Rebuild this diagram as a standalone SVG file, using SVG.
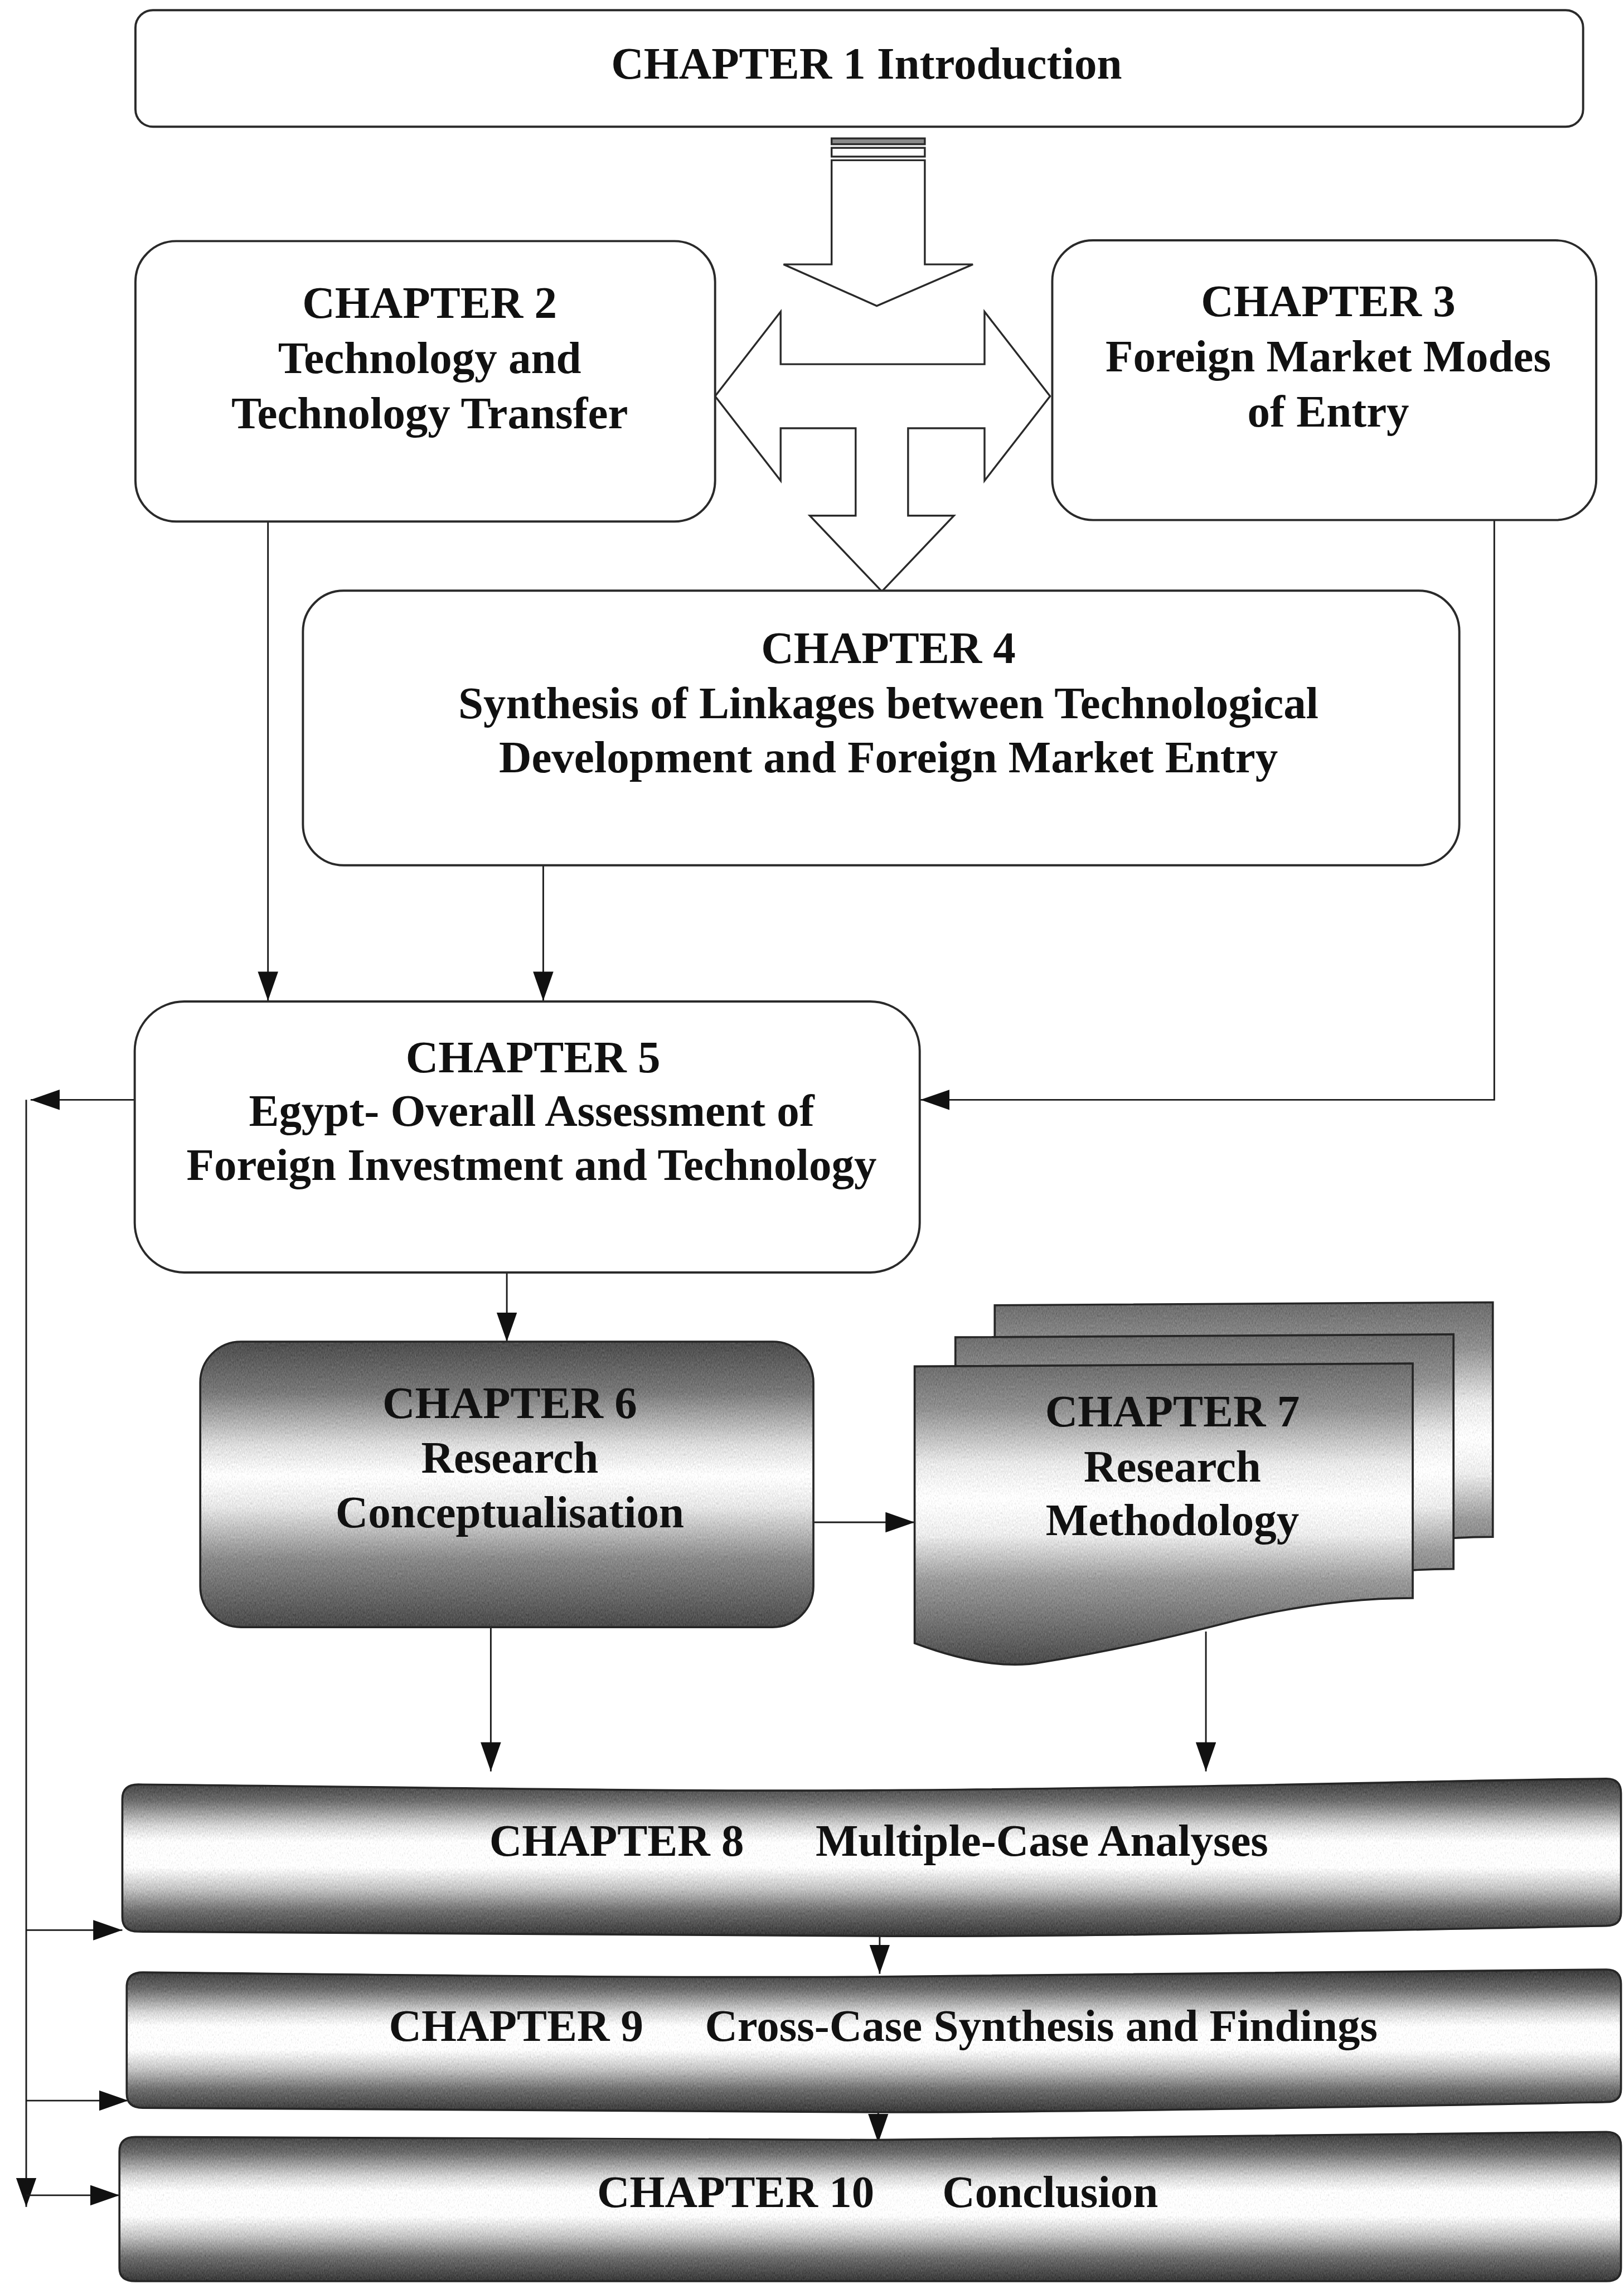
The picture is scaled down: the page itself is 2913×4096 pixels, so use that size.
<svg xmlns="http://www.w3.org/2000/svg" width="2913" height="4096" viewBox="0 0 2913 4096">
  <defs>
    <style>
      .box { fill: #ffffff; stroke: #2a2a2a; stroke-width: 1.5; }
      .shape { fill: #ffffff; stroke: #2a2a2a; stroke-width: 1.3; stroke-linejoin: miter; }
      .shade { stroke: #262626; stroke-width: 1.4; }
      .lbl { font-family: "Liberation Serif", "Times New Roman", serif; font-weight: bold; font-size: 31px; fill: #111111; text-anchor: middle; }
      .lbl-l { font-family: "Liberation Serif", "Times New Roman", serif; font-weight: bold; font-size: 31px; fill: #111111; text-anchor: start; }
      .wire { fill: none; stroke: #1a1a1a; stroke-width: 1.1; }
    </style>
    <marker id="ah" markerUnits="userSpaceOnUse" viewBox="0 0 20 14" markerWidth="20" markerHeight="14" refX="20" refY="7" orient="auto">
      <path d="M0,0 L20,7 L0,14 Z" fill="#111111"/>
    </marker>
    <!-- vertical shading for the rounded "Research Conceptualisation" block -->
    <linearGradient id="gBlock" x1="0" y1="0" x2="0" y2="1">
      <stop offset="0" stop-color="#4d4d4d"/>
      <stop offset="0.18" stop-color="#7a7a7a"/>
      <stop offset="0.36" stop-color="#dcdcdc"/>
      <stop offset="0.47" stop-color="#ffffff"/>
      <stop offset="0.58" stop-color="#e6e6e6"/>
      <stop offset="0.76" stop-color="#8a8a8a"/>
      <stop offset="1" stop-color="#4a4a4a"/>
    </linearGradient>
    <!-- shading for the stacked document pages -->
    <linearGradient id="gPage" x1="0" y1="0" x2="0" y2="1">
      <stop offset="0" stop-color="#6c6c6c"/>
      <stop offset="0.15" stop-color="#909090"/>
      <stop offset="0.33" stop-color="#e8e8e8"/>
      <stop offset="0.45" stop-color="#ffffff"/>
      <stop offset="0.57" stop-color="#ececec"/>
      <stop offset="0.72" stop-color="#9a9a9a"/>
      <stop offset="1" stop-color="#4a4a4a"/>
    </linearGradient>
    <!-- shading for the horizontal cylinder bars -->
    <linearGradient id="gBar" x1="0" y1="0" x2="0" y2="1">
      <stop offset="0" stop-color="#3a3a3a"/>
      <stop offset="0.14" stop-color="#6c6c6c"/>
      <stop offset="0.3" stop-color="#d6d6d6"/>
      <stop offset="0.4" stop-color="#ffffff"/>
      <stop offset="0.56" stop-color="#ffffff"/>
      <stop offset="0.7" stop-color="#c4c4c4"/>
      <stop offset="0.84" stop-color="#6e6e6e"/>
      <stop offset="1" stop-color="#383838"/>
    </linearGradient>
    <!-- fine grain laid over the shaded fills -->
    <filter id="grain" x="0" y="0" width="100%" height="100%" color-interpolation-filters="sRGB">
      <feTurbulence type="fractalNoise" baseFrequency="1.6 0.6" numOctaves="2" seed="7" result="t"/>
      <feColorMatrix in="t" type="matrix" values="0.33 0.33 0.33 0 0  0.33 0.33 0.33 0 0  0.33 0.33 0.33 0 0  0 0 0 0 1" result="g"/>
      <feComposite in="SourceGraphic" in2="g" operator="arithmetic" k1="0" k2="1" k3="0.4" k4="-0.2" result="c"/>
      <feComposite in="c" in2="SourceAlpha" operator="in"/>
    </filter>
  </defs>

  <rect x="0" y="0" width="2913" height="4096" fill="#ffffff"/>

  <g transform="scale(2.6124)">
    <!-- connectors -->
    <g id="connectors">
      <path class="wire" d="M184 358 V687" marker-end="url(#ah)"/>
      <path class="wire" d="M373 594 V687" marker-end="url(#ah)"/>
      <path class="wire" d="M1026 357 V755 H632" marker-end="url(#ah)"/>
      <path class="wire" d="M348 874 V921" marker-end="url(#ah)"/>
      <path class="wire" d="M559 1045 H628" marker-end="url(#ah)"/>
      <path class="wire" d="M337 1117 V1216" marker-end="url(#ah)"/>
      <path class="wire" d="M828 1120 V1216" marker-end="url(#ah)"/>
      <path class="wire" d="M604 1327 V1355" marker-end="url(#ah)"/>
      <path class="wire" d="M603 1449 V1471" marker-end="url(#ah)"/>
      <path class="wire" d="M92 755 H21" marker-end="url(#ah)"/>
      <path class="wire" d="M18 755 V1515" marker-end="url(#ah)"/>
      <path class="wire" d="M18 1325 H84" marker-end="url(#ah)"/>
      <path class="wire" d="M18 1442 H88" marker-end="url(#ah)"/>
      <path class="wire" d="M18 1507 H82" marker-end="url(#ah)"/>
    </g>

    <!-- block arrows between chapters 1-4 -->
    <g id="flow-arrows">
      <rect class="shape" x="571" y="95" width="64" height="4" style="fill:#8a8a8a"/>
      <rect class="shape" x="571" y="101.5" width="64" height="6"/>
      <path class="shape" d="M571 110 V181.5 H538 L602 210 L668 181.5 H635 V110 Z"/>
      <path class="shape" d="M491 272 L536 214 V250 H676 V214 L721 272 L676 330 V294 H623.5 V354 H655 L605.5 406 L556 354 H587.5 V294 H536 V330 Z"/>
    </g>

    <g id="ch1">
      <rect class="box" x="93" y="7" width="994" height="80" rx="12"/>
      <text class="lbl" x="595" y="54">CHAPTER 1 Introduction</text>
    </g>

    <g id="ch2">
      <rect class="box" x="93" y="165.5" width="398" height="192.5" rx="28"/>
      <text class="lbl" x="295" y="218">CHAPTER 2</text>
      <text class="lbl" x="295" y="256">Technology and</text>
      <text class="lbl" x="295" y="294">Technology Transfer</text>
    </g>

    <g id="ch3">
      <rect class="box" x="722.5" y="165" width="373.5" height="192" rx="28"/>
      <text class="lbl" x="912" y="217">CHAPTER 3</text>
      <text class="lbl" x="912" y="255">Foreign Market Modes</text>
      <text class="lbl" x="912" y="293">of Entry</text>
    </g>

    <g id="ch4">
      <rect class="box" x="208" y="405.5" width="794" height="188.5" rx="28"/>
      <text class="lbl" x="610" y="455">CHAPTER 4</text>
      <text class="lbl" x="610" y="493">Synthesis of Linkages between Technological</text>
      <text class="lbl" x="610" y="530">Development and Foreign Market Entry</text>
    </g>

    <g id="ch5">
      <rect class="box" x="92.5" y="687.5" width="539" height="186" rx="34"/>
      <text class="lbl" x="366" y="736">CHAPTER 5</text>
      <text class="lbl" x="365" y="773">Egypt- Overall Assessment of</text>
      <text class="lbl" x="365" y="810">Foreign Investment and Technology</text>
    </g>

    <g id="ch6">
      <rect x="137.5" y="921" width="421" height="196" rx="28" fill="url(#gBlock)" filter="url(#grain)"/>
      <rect x="137.5" y="921" width="421" height="196" rx="28" fill="none" stroke="#262626" stroke-width="1.4"/>
      <text class="lbl" x="350" y="973.5">CHAPTER 6</text>
      <text class="lbl" x="350" y="1011">Research</text>
      <text class="lbl" x="350" y="1048.5">Conceptualisation</text>
    </g>

    <g id="ch7">
      <g transform="translate(55 -42)">
        <path d="M628 938 L970 936 V1097 C940 1097 900 1100 850 1112 C800 1125 760 1134 716 1141 C690 1146 660 1140 628 1128 Z" fill="url(#gPage)" filter="url(#grain)"/>
        <path class="shade" fill="none" d="M628 938 L970 936 V1097 C940 1097 900 1100 850 1112 C800 1125 760 1134 716 1141 C690 1146 660 1140 628 1128 Z"/>
      </g>
      <g transform="translate(28 -20)">
        <path d="M628 938 L970 936 V1097 C940 1097 900 1100 850 1112 C800 1125 760 1134 716 1141 C690 1146 660 1140 628 1128 Z" fill="url(#gPage)" filter="url(#grain)"/>
        <path class="shade" fill="none" d="M628 938 L970 936 V1097 C940 1097 900 1100 850 1112 C800 1125 760 1134 716 1141 C690 1146 660 1140 628 1128 Z"/>
      </g>
      <path d="M628 938 L970 936 V1097 C940 1097 900 1100 850 1112 C800 1125 760 1134 716 1141 C690 1146 660 1140 628 1128 Z" fill="url(#gPage)" filter="url(#grain)"/>
      <path class="shade" fill="none" d="M628 938 L970 936 V1097 C940 1097 900 1100 850 1112 C800 1125 760 1134 716 1141 C690 1146 660 1140 628 1128 Z"/>
      <text class="lbl" x="805" y="979">CHAPTER 7</text>
      <text class="lbl" x="805" y="1017">Research</text>
      <text class="lbl" x="805" y="1054">Methodology</text>
    </g>

    <g id="ch8">
      <path d="M84 1235 Q84 1225 95 1225 C300 1227 450 1230 600 1229 C800 1228 1000 1222 1103 1221 Q1113 1221 1113 1231 L1113 1313 Q1113 1322 1103 1322 C950 1325 750 1330 600 1329 C400 1328 200 1326 95 1326 Q84 1326 84 1316 Z" fill="url(#gBar)" filter="url(#grain)"/>
      <path class="shade" fill="none" d="M84 1235 Q84 1225 95 1225 C300 1227 450 1230 600 1229 C800 1228 1000 1222 1103 1221 Q1113 1221 1113 1231 L1113 1313 Q1113 1322 1103 1322 C950 1325 750 1330 600 1329 C400 1328 200 1326 95 1326 Q84 1326 84 1316 Z"/>
      <text class="lbl-l" x="336" y="1274">CHAPTER 8</text>
      <text class="lbl-l" x="560" y="1274">Multiple-Case Analyses</text>
    </g>

    <g id="ch9">
      <path d="M87 1364 Q87 1354 98 1354 C300 1356 450 1358 600 1357 C800 1356 1000 1352 1103 1352 Q1113 1352 1113 1362 L1113 1434 Q1113 1443 1103 1443 C950 1446 750 1450 600 1450 C400 1449 200 1447 98 1447 Q87 1447 87 1437 Z" fill="url(#gBar)" filter="url(#grain)"/>
      <path class="shade" fill="none" d="M87 1364 Q87 1354 98 1354 C300 1356 450 1358 600 1357 C800 1356 1000 1352 1103 1352 Q1113 1352 1113 1362 L1113 1434 Q1113 1443 1103 1443 C950 1446 750 1450 600 1450 C400 1449 200 1447 98 1447 Q87 1447 87 1437 Z"/>
      <text class="lbl-l" x="267" y="1401">CHAPTER 9</text>
      <text class="lbl-l" x="484" y="1401">Cross-Case Synthesis and Findings</text>
    </g>

    <g id="ch10">
      <path d="M82 1477 Q82 1467 93 1467 C300 1468 450 1470 600 1469 C800 1468 1000 1464 1103 1463.5 Q1113 1463.5 1113 1473 L1113 1557 Q1113 1566 1103 1566 L93 1566 Q82 1566 82 1557 Z" fill="url(#gBar)" filter="url(#grain)"/>
      <path class="shade" fill="none" d="M82 1477 Q82 1467 93 1467 C300 1468 450 1470 600 1469 C800 1468 1000 1464 1103 1463.5 Q1113 1463.5 1113 1473 L1113 1557 Q1113 1566 1103 1566 L93 1566 Q82 1566 82 1557 Z"/>
      <text class="lbl-l" x="410" y="1515">CHAPTER 10</text>
      <text class="lbl-l" x="647" y="1515">Conclusion</text>
    </g>
  </g>
</svg>
